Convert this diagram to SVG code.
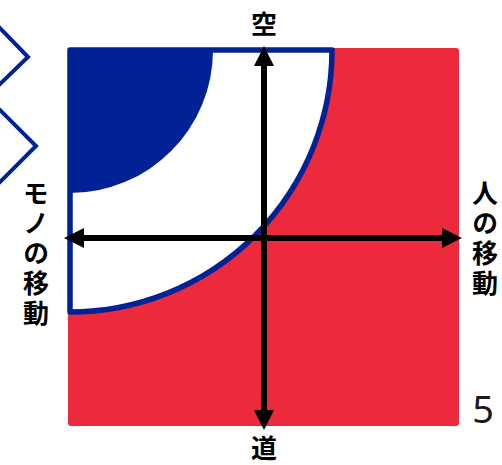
<svg xmlns="http://www.w3.org/2000/svg" width="502" height="465" viewBox="0 0 502 465">
<style>
.lbl{font-family:"Noto Sans CJK JP","Noto Sans",sans-serif;font-weight:bold;font-size:26px;fill:#000;text-anchor:middle}
.vt{font-family:"Noto Sans CJK JP","Noto Sans",sans-serif;font-weight:bold;font-size:26px;fill:#000;writing-mode:vertical-rl;letter-spacing:4px}
.ax{stroke:#000;stroke-width:6;fill:none}
</style>
<defs>
<marker id="ah" viewBox="0 0 20 20" refX="2" refY="10" markerWidth="20" markerHeight="20" markerUnits="userSpaceOnUse" orient="auto">
<path d="M0,0 L20,10 L0,20 Z" fill="#000"/>
</marker>
</defs>
<g id="chevrons" fill="none" stroke="#012295" stroke-width="4">
<polyline points="-2,26 28,57 -2,86"/>
<polyline points="-2,108 36,146 -2,184"/>
</g>
<g id="background">
<rect x="68" y="48" width="391" height="378" rx="3" fill="#EC2A3C"/>
</g>
<g id="region">
<path d="M70,50 L332,50 A262,262 0 0 1 70,312 Z" fill="#fff" stroke="#012295" stroke-width="5.5" stroke-linejoin="round"/>
<path d="M70,50 L213,50 A143,143 0 0 1 70,193 Z" fill="#012295"/>
</g>
<g id="connectors">
<line class="ax" x1="264" y1="412" x2="264" y2="64" marker-end="url(#ah)"/>
<line class="ax" x1="264" y1="64" x2="264" y2="412" marker-end="url(#ah)"/>
<line class="ax" x1="264" y1="238" x2="82" y2="238" marker-end="url(#ah)"/>
<line class="ax" x1="264" y1="238" x2="444" y2="238" marker-end="url(#ah)"/>
</g>
<g id="label-sky"><text class="lbl" x="264" y="34">空</text></g>
<g id="label-road"><text class="lbl" x="264" y="458">道</text></g>
<g id="label-goods">
<text class="vt" x="36" y="180">モノの移動</text>
</g>
<g id="label-people">
<text class="vt" x="485" y="180">人の移動</text>
</g>
<g id="page-number"><text x="483" y="423" font-family="Noto Sans,sans-serif" font-size="38" fill="#1a1a1a" text-anchor="middle">5</text></g>
</svg>
